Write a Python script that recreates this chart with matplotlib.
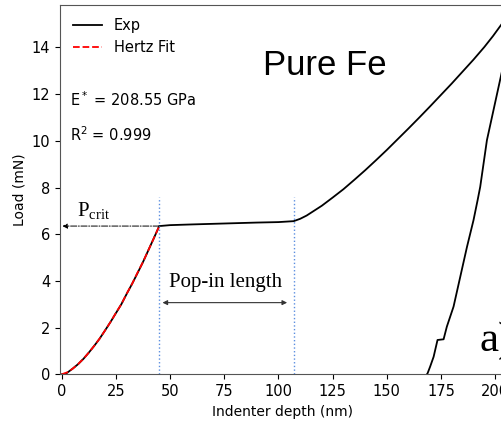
import matplotlib
matplotlib.use("Agg")
import matplotlib.pyplot as plt

# experimental load-displacement curve (loading branch)
load_depth = [0, 2, 5, 7.5, 10, 12.5, 15, 17.5, 20, 22.5, 25, 27.5, 30, 32.5, 35, 37.5, 40, 42.5, 45,
              50, 60, 75, 90, 100, 107, 110, 113, 116, 120, 125, 130, 135, 140, 145, 150, 155,
              160, 165, 170, 175, 180, 185, 190, 195, 199, 203, 208]
load_force = [0, 0.03, 0.24, 0.43, 0.66, 0.93, 1.22, 1.53, 1.88, 2.24, 2.62, 3.0, 3.45, 3.88, 4.34, 4.81, 5.32, 5.83, 6.35,
              6.39, 6.42, 6.46, 6.5, 6.52, 6.56, 6.66, 6.8, 6.98, 7.22, 7.57, 7.93, 8.33, 8.74, 9.17, 9.61, 10.07,
              10.53, 11.0, 11.48, 11.97, 12.46, 12.97, 13.48, 14.02, 14.49, 15.0, 15.6]

# unloading branch
unload_depth = [208, 203.1, 196.2, 193.1, 191.9, 190, 187, 183.9, 180.8, 177.7, 176.2, 173.4, 171.6, 170, 168.8, 168.5]
unload_force = [15.6, 12.96, 10.03, 8.03, 7.46, 6.6, 5.46, 4.18, 2.9, 2.04, 1.5, 1.47, 0.75, 0.33, 0.04, 0]

# Hertz fit up to the pop-in
hertz_depth = [0, 2.5, 5, 7.5, 10, 12.5, 15, 17.5, 20, 22.5, 25, 27.5, 30, 32.5, 35, 37.5, 40, 42.5, 45]
hertz_force = [0, 0.083, 0.235, 0.432, 0.665, 0.93, 1.22, 1.53, 1.88, 2.24, 2.63, 3.0, 3.46, 3.88, 4.36, 4.81, 5.32, 5.83, 6.35]

pop_start = 45
pop_end = 107
p_crit = 6.35
e_star = 208.55
r_sq = 0.999

fig = plt.figure(figsize=(5.02, 4.21), dpi=100)
ax = fig.add_axes([60 / 502, 46.7 / 421, 446 / 502, 369.3 / 421])

ax.plot(load_depth, load_force, color='black', lw=1.3, label='Exp')
ax.plot(unload_depth, unload_force, color='black', lw=1.3)
ax.plot(hertz_depth, hertz_force, color='red', ls='--', lw=1.3, label='Hertz Fit')

# pop-in markers
ax.vlines([pop_start, pop_end], 0, 7.6, colors='#5b8ee0', linestyles=':', lw=1.0)

ax.annotate('', xy=(0.3, p_crit), xytext=(pop_start, p_crit),
            arrowprops=dict(arrowstyle='-|>', linestyle='-.', lw=0.7, color='black',
                            mutation_scale=7, shrinkA=0, shrinkB=0))
ax.text(7, 7.0, r'P$_{\mathregular{crit}}$', family='Liberation Serif', fontsize=15, va='center')

ax.annotate('', xy=(pop_start + 1.5, 3.07), xytext=(pop_end - 3, 3.07),
            arrowprops=dict(arrowstyle='<|-|>', lw=0.8, color='#333333',
                            mutation_scale=7, shrinkA=0, shrinkB=0))
ax.text(75.5, 3.95, 'Pop-in length', family='Liberation Serif', fontsize=15, ha='center', va='center')

ax.text(121.2, 12.82, 'Pure Fe', family='Liberation Sans', fontsize=25, ha='center', va='baseline')
ax.text(193, 1.0, 'a)', family='Liberation Serif', fontsize=31, ha='left', va='baseline')

ax.text(3.9, 11.75, r'E$^*$ = %.2f GPa' % e_star, fontsize=10.5, va='center')
ax.text(3.9, 10.25, r'R$^2$ = %.3f' % r_sq, fontsize=10.5, va='center')

ax.legend(loc='upper left', frameon=False, fontsize=10.5)

ax.set_xlim(-0.8, 205)
ax.set_ylim(0, 15.82)
ax.set_xticks(range(0, 201, 25))
ax.set_yticks(range(0, 15, 2))
ax.tick_params(labelsize=10.5)
ax.set_xlabel('Indenter depth (nm)', fontsize=10)
ax.set_ylabel('Load (mN)', fontsize=10)
for s in ax.spines.values():
    s.set_color('#555555')

fig.savefig('out.png', dpi=100)
